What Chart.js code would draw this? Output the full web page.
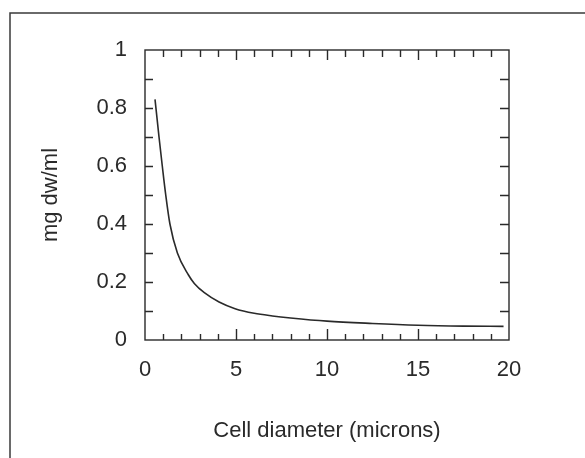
<!DOCTYPE html>
<html>
<head>
<meta charset="utf-8">
<script src="https://cdn.jsdelivr.net/npm/chart.js@4/dist/chart.umd.min.js"></script>
<style>
  html, body { margin: 0; padding: 0; background: #fff; }
  #wrap { position: relative; width: 585px; height: 458px; }
</style>
</head>
<body>
<div id="wrap"><canvas id="c"></canvas></div>
<script>
// ---- data ----
const diameter = [0.55, 0.77, 0.95, 1.14, 1.37, 1.78, 2.38, 2.71, 3.26, 4.07, 4.95, 6.0, 7.0, 8.0, 10.0, 12.5, 15.0, 17.5, 19.7];
const density  = [0.83, 0.70, 0.60, 0.50, 0.40, 0.30, 0.225, 0.195, 0.163, 0.131, 0.108, 0.092, 0.083, 0.076, 0.065, 0.057, 0.051, 0.048, 0.047];
const xTickValues = [0, 5, 10, 15, 20];
const xTickLabels = ['0', '5', '10', '15', '20'];
const yTickValues = [0, 0.2, 0.4, 0.6, 0.8, 1];
const yTickLabels = ['0', '0.2', '0.4', '0.6', '0.8', '1'];
const xTitle = 'Cell diameter (microns)';
const yTitle = 'mg dw/ml';

const INK = '#2a2a2a';
const FONT = "'Liberation Sans', Arial, Helvetica, sans-serif";

const frame = {
  id: 'frame',
  beforeDraw(chart) {
    const ctx = chart.ctx;
    ctx.save();
    ctx.strokeStyle = '#3a3a3a';
    ctx.lineWidth = 1.5;
    ctx.beginPath();
    ctx.moveTo(585, 13);
    ctx.lineTo(10, 13);
    ctx.lineTo(10, 458);
    ctx.stroke();
    ctx.restore();
  },
  afterDraw(chart) {
    const {ctx, chartArea: a, scales: {x, y}} = chart;
    ctx.save();
    ctx.strokeStyle = INK;
    ctx.lineWidth = 1.4;
    ctx.strokeRect(a.left, a.top, a.right - a.left, a.bottom - a.top);
    ctx.beginPath();
    for (let v = 1; v < 20; v++) {
      const px = Math.round(x.getPixelForValue(v)) + 0.5;
      const major = v % 5 === 0;
      ctx.moveTo(px, a.bottom); ctx.lineTo(px, a.bottom - (major ? 11 : 6));
      ctx.moveTo(px, a.top); ctx.lineTo(px, a.top + (major ? 10 : 7));
    }
    for (let k = 1; k < 10; k++) {
      const py = Math.round(y.getPixelForValue(k / 10)) + 0.5;
      ctx.moveTo(a.left, py); ctx.lineTo(a.left + 8, py);
      ctx.moveTo(a.right, py); ctx.lineTo(a.right - 9, py);
    }
    ctx.stroke();
    ctx.restore();
  }
};

new Chart(document.getElementById('c'), {
  type: 'line',
  data: {
    datasets: [{
      data: diameter.map((d, i) => ({x: d, y: density[i]})),
      borderColor: INK,
      borderWidth: 1.6,
      pointRadius: 0,
      cubicInterpolationMode: 'monotone',
      fill: false
    }]
  },
  options: {
    responsive: true,
    maintainAspectRatio: false,
    animation: false,
    events: [],
    layout: { padding: { top: 50, right: 76, left: 0, bottom: 0 } },
    plugins: { legend: { display: false }, tooltip: { enabled: false } },
    scales: {
      x: {
        type: 'linear', min: 0, max: 20,
        afterBuildTicks: s => { s.ticks = xTickValues.map(v => ({value: v})); },
        afterFit: s => { s.height = 118; },
        grid: { display: false, drawTicks: false },
        border: { display: false },
        ticks: {
          color: INK, font: { family: FONT, size: 22 }, padding: 17, maxRotation: 0,
          callback: (v) => xTickLabels[xTickValues.indexOf(v)]
        },
        title: { display: true, text: xTitle, color: INK, font: { family: FONT, size: 22 }, padding: { top: 0, bottom: 14 } }
      },
      y: {
        type: 'linear', min: 0, max: 1,
        afterBuildTicks: s => { s.ticks = yTickValues.map(v => ({value: v})); },
        afterFit: s => { s.width = 145; },
        grid: { display: false, drawTicks: false },
        border: { display: false },
        ticks: {
          color: INK, font: { family: FONT, size: 22 }, padding: 18,
          callback: (v) => yTickLabels[yTickValues.indexOf(v)]
        },
        title: { display: true, text: yTitle, color: INK, font: { family: FONT, size: 22 }, padding: { top: 38, bottom: 0 } }
      }
    }
  },
  plugins: [frame]
});
</script>
</body>
</html>
